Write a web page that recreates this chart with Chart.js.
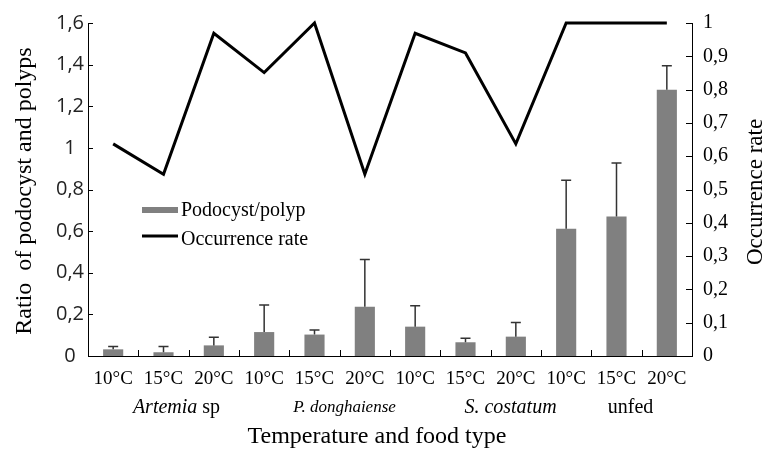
<!DOCTYPE html>
<html>
<head>
<meta charset="utf-8">
<script src="https://cdn.jsdelivr.net/npm/chart.js@4/dist/chart.umd.min.js"></script>
<style>
html,body{margin:0;padding:0;background:#fff;}
#wrap{width:772px;height:449px;position:relative;}
</style>
</head>
<body>
<div id="wrap"><canvas id="c" width="772" height="449"></canvas></div>
<script>
const categories = ['10°C','15°C','20°C','10°C','15°C','20°C','10°C','15°C','20°C','10°C','15°C','20°C'];
const groups = ['Artemia sp','P. donghaiense','S. costatum','unfed'];
const ratio = [0.032,0.018,0.051,0.115,0.103,0.237,0.141,0.066,0.093,0.611,0.670,1.279];
const ratioSD = [0.014,0.028,0.039,0.130,0.022,0.227,0.100,0.019,0.068,0.233,0.257,0.115];
const occurrence = [0.637,0.546,0.969,0.851,1.000,0.546,0.969,0.910,0.637,1.000,1.000,1.000];
const ratioTicks = ['0','0,2','0,4','0,6','0,8','1','1,2','1,4','1,6'];
const occTicks = ['0','0,1','0,2','0,3','0,4','0,5','0,6','0,7','0,8','0,9','1'];

const SERIF = '"Liberation Serif","Times New Roman",serif';
const SANS = '"Open Sans","Liberation Sans",sans-serif';

const extras = {
  id: 'extras',
  afterDatasetsDraw(chart) {
    const ctx = chart.ctx;
    const x = chart.scales.x, y = chart.scales.y, y2 = chart.scales.y2;
    const area = chart.chartArea;
    ctx.save();
    // error bars
    ctx.strokeStyle = '#333';
    ctx.lineWidth = 1.5;
    ratio.forEach((v, i) => {
      const px = x.getPixelForValue(i);
      const top = y.getPixelForValue(v + ratioSD[i]);
      const base = y.getPixelForValue(v);
      ctx.beginPath();
      ctx.moveTo(px, base); ctx.lineTo(px, top);
      ctx.moveTo(px - 5, top); ctx.lineTo(px + 5, top);
      ctx.stroke();
    });
    // inward tick marks
    ctx.strokeStyle = '#000';
    ctx.lineWidth = 1;
    y.ticks.forEach((t, i) => {
      const py = Math.round(y.getPixelForTick(i)) + 0.5;
      ctx.beginPath(); ctx.moveTo(area.left, py); ctx.lineTo(area.left + 5, py); ctx.stroke();
    });
    y2.ticks.forEach((t, i) => {
      const py = Math.round(y2.getPixelForTick(i)) + 0.5;
      ctx.beginPath(); ctx.moveTo(area.right, py); ctx.lineTo(area.right - 6, py); ctx.stroke();
    });
    for (let i = 1; i < categories.length; i++) {
      const px = Math.round((x.getPixelForValue(i - 1) + x.getPixelForValue(i)) / 2) + 0.5;
      ctx.beginPath(); ctx.moveTo(px, area.bottom); ctx.lineTo(px, area.bottom - 6); ctx.stroke();
    }
    ctx.restore();
  },
  afterDraw(chart) {
    const ctx = chart.ctx;
    const x = chart.scales.x;
    ctx.save();
    ctx.fillStyle = '#000';
    ctx.textBaseline = 'alphabetic';
    // group labels
    const gy = 413;
    const centers = [1, 4, 7, 10].map(i => x.getPixelForValue(i));
    ctx.font = 'italic 20px ' + SERIF;
    const w1 = ctx.measureText('Artemia').width;
    ctx.font = '20px ' + SERIF;
    const w2 = ctx.measureText(' sp').width;
    const sx = centers[0] + 13 - (w1 + w2) / 2;
    ctx.textAlign = 'left';
    ctx.font = 'italic 20px ' + SERIF;
    ctx.fillText('Artemia', sx, gy);
    ctx.font = '20px ' + SERIF;
    ctx.fillText(' sp', sx + w1, gy);
    ctx.textAlign = 'center';
    ctx.font = 'italic 17px ' + SERIF;
    ctx.fillText(groups[1], centers[1] + 30, gy - 1);
    ctx.font = 'italic 20px ' + SERIF;
    ctx.fillText(groups[2], centers[2] + 45, gy);
    ctx.font = '20px ' + SERIF;
    ctx.fillText(groups[3], centers[3] + 14, gy);
    // x title
    ctx.font = '24px ' + SERIF;
    ctx.fillText('Temperature and food type', 377, 443);
    // left title
    ctx.save();
    ctx.translate(31, 191);
    ctx.rotate(-Math.PI / 2);
    ctx.font = '24px ' + SERIF;
    ctx.fillText('Ratio  of podocyst and polyps', 0, 0);
    ctx.restore();
    // right title
    ctx.save();
    ctx.translate(762, 192);
    ctx.rotate(-Math.PI / 2);
    ctx.font = '23px ' + SERIF;
    ctx.fillText('Occurrence rate', 0, 0);
    ctx.restore();
    // legend
    const barDs = chart.data.datasets.find(d => d.type === 'bar');
    const lineDs = chart.data.datasets.find(d => d.type === 'line');
    ctx.fillStyle = barDs.backgroundColor;
    ctx.fillRect(142, 207, 36, 6);
    ctx.strokeStyle = lineDs.borderColor;
    ctx.lineWidth = 3;
    ctx.beginPath(); ctx.moveTo(142, 236); ctx.lineTo(178, 236); ctx.stroke();
    ctx.fillStyle = '#000';
    ctx.textAlign = 'left';
    ctx.font = '20px ' + SERIF;
    ctx.fillText(barDs.label, 181, 216);
    ctx.fillText(lineDs.label, 181, 245);
    ctx.restore();
  }
};

new Chart(document.getElementById('c'), {
  data: {
    labels: categories,
    datasets: [
      {
        type: 'line',
        label: 'Occurrence rate',
        data: occurrence,
        yAxisID: 'y2',
        borderColor: '#000',
        borderWidth: 3,
        pointRadius: 0,
        tension: 0,
        fill: false,
        clip: false,
        order: 0
      },
      {
        type: 'bar',
        label: 'Podocyst/polyp',
        data: ratio,
        yAxisID: 'y',
        backgroundColor: '#808080',
        borderWidth: 0,
        barPercentage: 0.4,
        categoryPercentage: 1,
        order: 1
      }
    ]
  },
  options: {
    responsive: false,
    animation: false,
    devicePixelRatio: 1,
    layout: { padding: { top: 19, left: 0, right: 0, bottom: 0 } },
    plugins: { legend: { display: false }, tooltip: { enabled: false } },
    scales: {
      x: {
        type: 'category',
        grid: { display: false, drawTicks: false },
        border: { display: true, color: '#000', width: 1 },
        ticks: { color: '#000', font: { family: SERIF, size: 19 }, padding: 12, maxRotation: 0, autoSkip: false },
        afterFit(s) { s.height = 93; }
      },
      y: {
        position: 'left',
        min: 0, max: 1.6,
        grid: { display: false, drawTicks: false },
        border: { display: true, color: '#000', width: 1 },
        ticks: { stepSize: 0.2, color: '#222', font: { family: SANS, size: 20 }, padding: 4, crossAlign: 'center',
                 callback: (v, i) => ratioTicks[i] },
        afterFit(s) { s.width = 88; }
      },
      y2: {
        position: 'right',
        min: 0, max: 1,
        grid: { display: false, drawTicks: false },
        border: { display: true, color: '#000', width: 1 },
        ticks: { stepSize: 0.1, color: '#000', font: { family: SERIF, size: 20 }, padding: 11,
                 callback: (v, i) => occTicks[i] },
        afterFit(s) { s.width = 80; }
      }
    }
  },
  plugins: [extras]
});
</script>
</body>
</html>
